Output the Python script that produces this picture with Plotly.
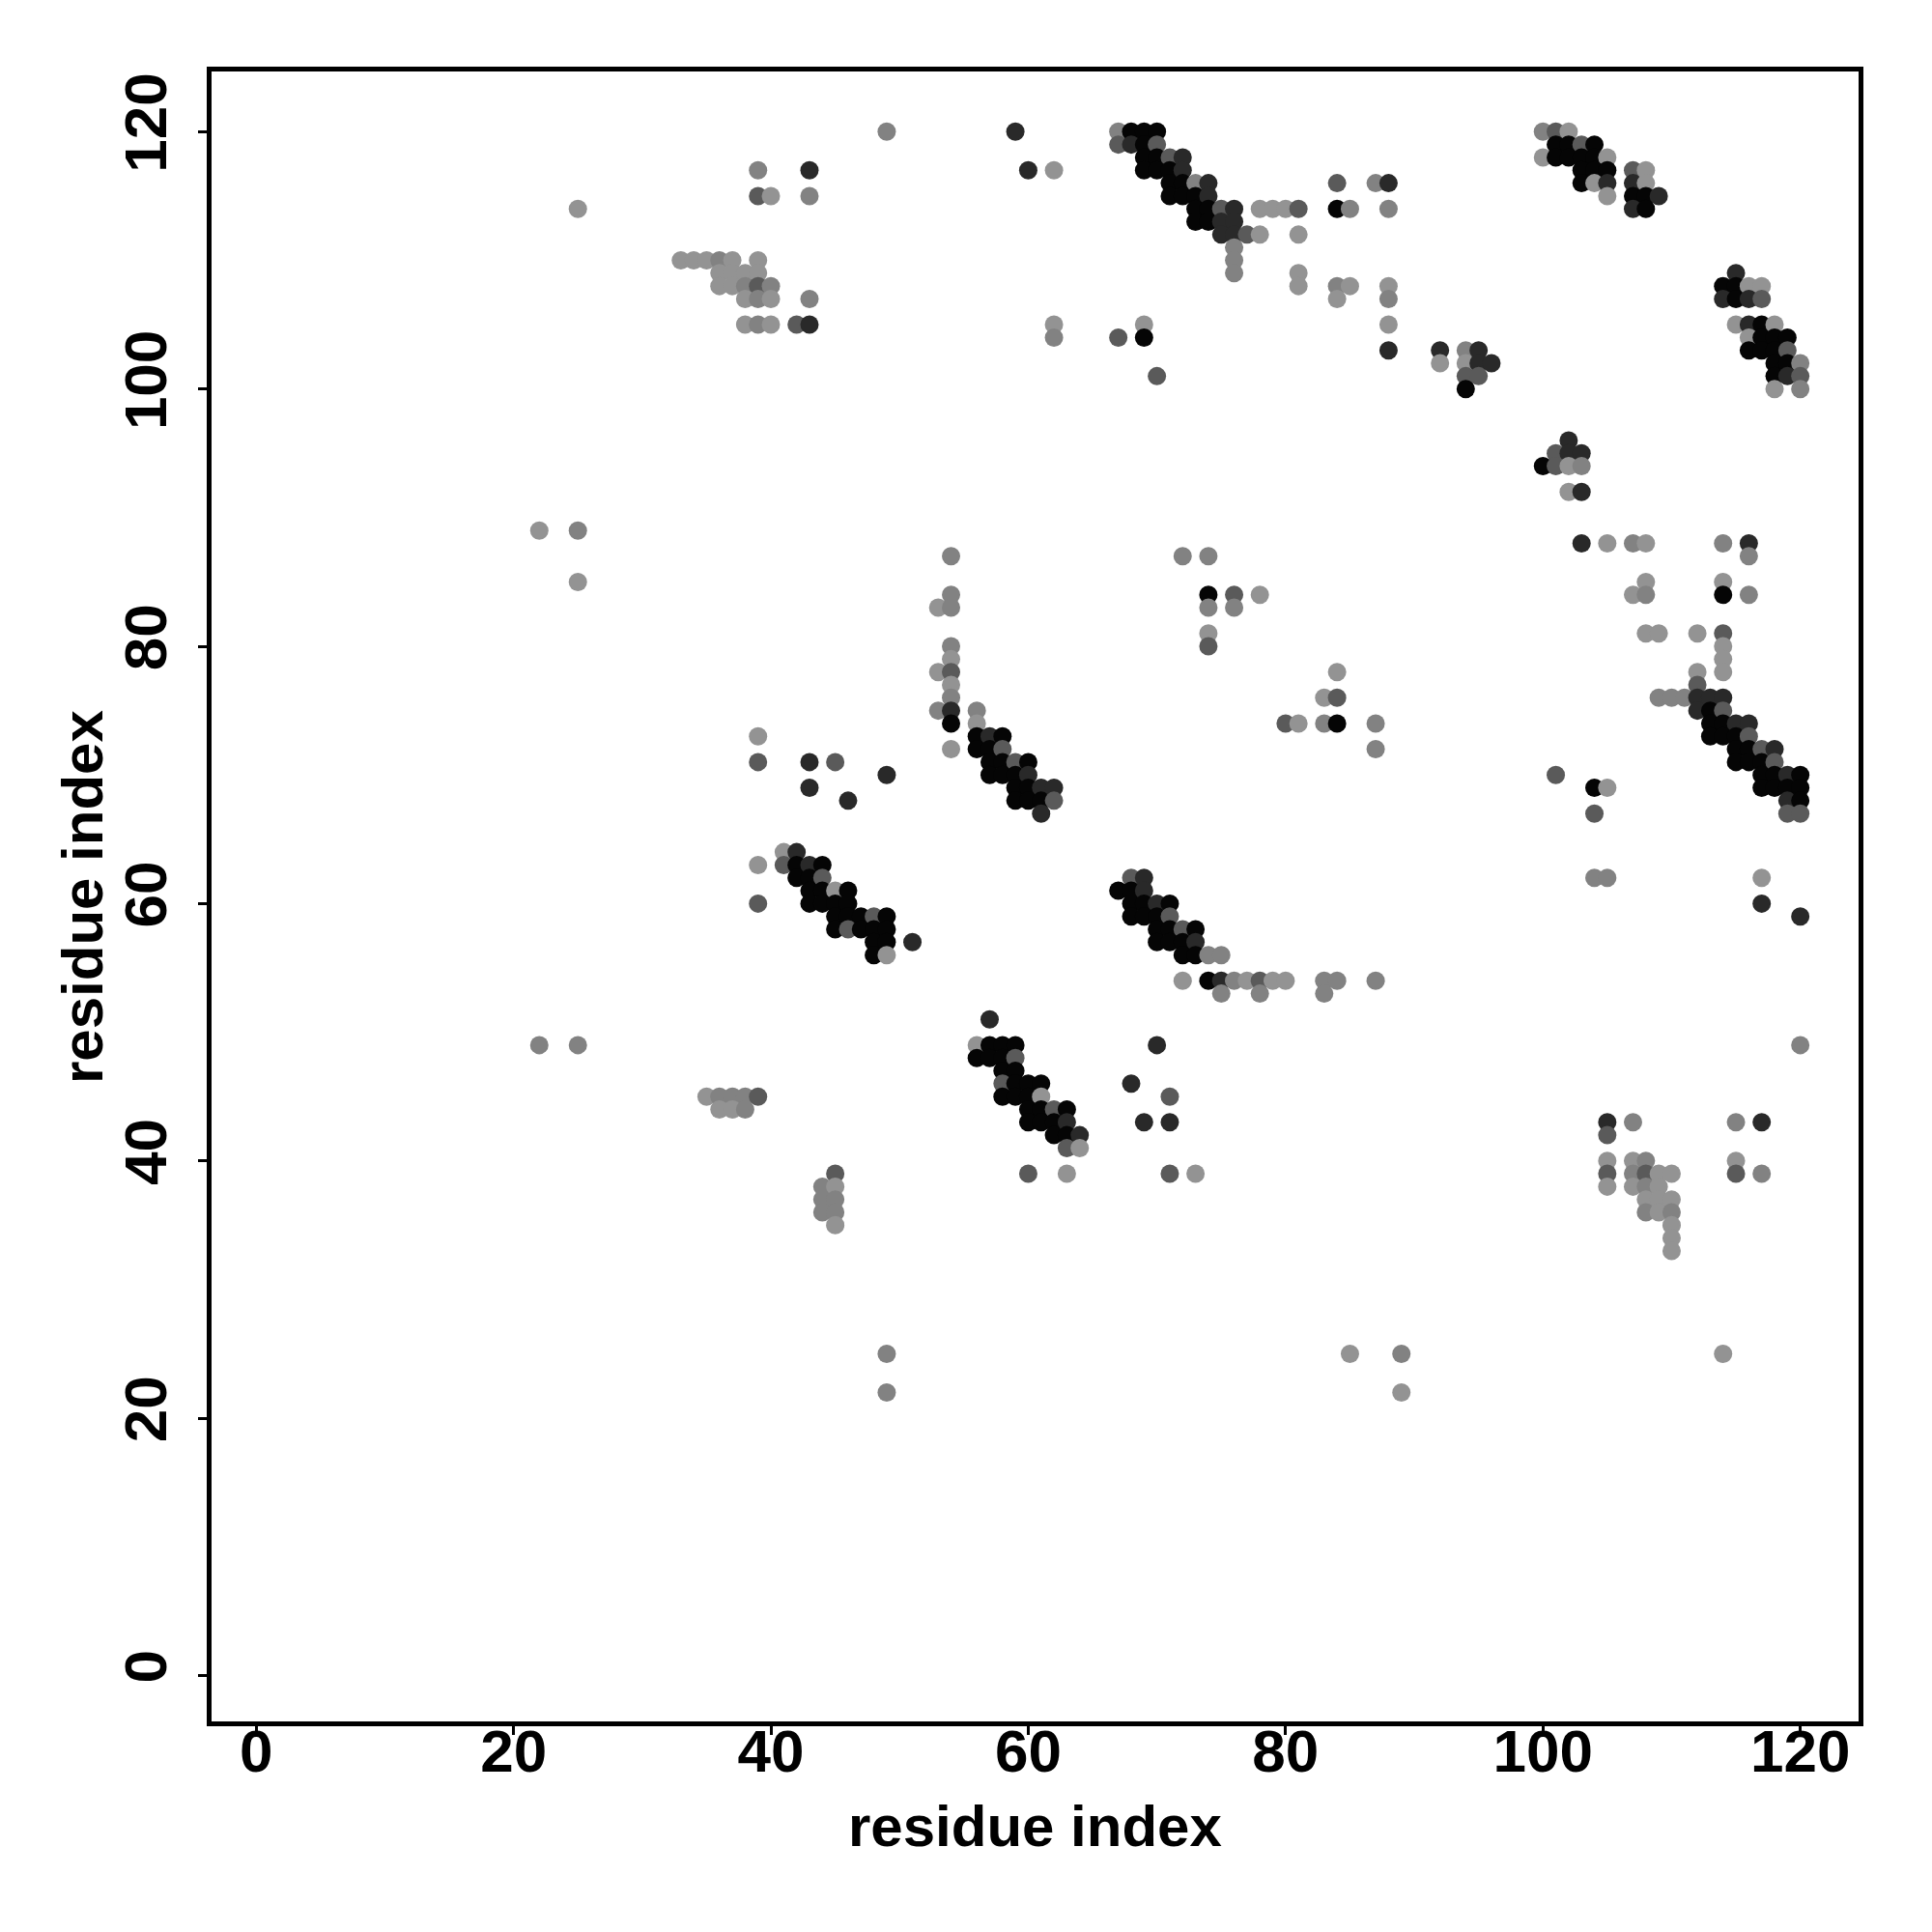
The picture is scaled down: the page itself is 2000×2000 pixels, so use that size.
import plotly.graph_objects as go

# contact score shades: L light, G gray, M mid, D dark, K black
L, G, M, D, K = 0.1, 0.2, 0.45, 0.75, 0.97

res_i = [
    49, 39, 43, 39, 40, 43, 25, 33, 34, 35, 36, 37, 39, 36, 37, 38, 39, 36, 37, 38, 39, 40, 38, 39, 40, 43, 38, 39, 40, 42, 43, 22, 25,
    59, 60, 62, 67, 68, 69, 70, 67, 68, 69, 70, 69, 70, 71, 72, 69, 70, 71, 72, 71, 72, 73, 74, 71, 72, 73, 74, 73, 74, 75, 76, 78, 79, 80, 81, 84, 85, 73, 74, 75, 76, 75, 76, 77, 78, 81, 76, 76, 76, 84, 87, 88, 81, 81, 84, 85, 84, 62, 62, 67, 69, 69, 70, 54, 72, 74,
    88, 88, 88, 88, 88, 92, 92, 94, 95, 94, 95, 96, 94, 95, 94,
    100, 101, 102, 101, 102, 103, 104, 100, 101, 102, 103, 104, 105, 103, 104, 105, 103, 104, 105, 105, 107, 108, 107, 108, 107, 108, 109, 107, 108,
    115, 114, 115, 116, 117, 114, 115, 116, 117, 115, 116, 117, 118, 116, 117, 118, 119, 116, 117, 118, 119, 118, 119, 120, 118, 119, 120, 118, 120,
    102, 101, 102, 103, 100, 101, 102, 103, 102, 103, 103, 105, 107, 108, 114, 116, 116,
    25, 39, 39, 43, 45, 43, 49, 46, 39, 39,
    41, 42, 41, 42, 43, 44, 42, 43, 44, 43, 44, 45, 46, 43, 44, 45, 46, 45, 46, 47, 48, 49, 45, 46, 47, 48, 49, 48, 49, 51, 48, 49,
    54, 53, 54, 54, 54, 53, 54, 54, 54, 53, 54, 54, 54, 56, 56,
    56, 57, 58, 56, 57, 58, 57, 58, 59, 60, 57, 58, 59, 60, 59, 60, 61, 62, 59, 60, 61, 62, 61,
    74, 76, 78, 74, 76, 74, 74, 84, 83, 84, 80, 81, 83, 84, 87, 87,
    68, 69, 67, 68, 69, 68, 69, 70, 71, 68, 69, 70, 71, 70, 71, 72, 73, 70, 71, 72, 73, 72, 73, 74, 75,
    72, 74, 75, 76, 77, 78, 79, 80, 83, 84, 87, 75, 78, 83,
    108, 107, 108, 114, 114, 116, 108, 109, 112, 114, 114, 114, 114, 112, 112,
    109, 110, 111, 112, 113, 114, 112, 113, 114, 113, 114, 115, 116, 113, 114, 115, 116, 115, 116, 117, 118, 115, 116, 117, 118, 117, 118, 119, 120, 117, 118, 119, 120, 119, 120, 119, 120,
    101, 104, 105, 104, 104, 105, 117, 117, 120,
    22, 25, 35, 36, 37, 38, 39, 36, 37, 38, 45, 44, 45, 44, 45, 44, 45, 45, 49, 49,
    57, 56, 57, 58, 59, 70, 56, 57, 58, 59, 58, 59, 58, 59, 60, 61, 68, 58, 59, 60, 61, 71, 60, 61, 62, 63, 60, 61, 62, 63, 69, 71, 62, 63, 64, 63, 64, 60, 63, 71, 73, 85,
    120, 105, 105, 107, 115, 117, 105, 105, 105, 107, 108, 107, 108, 107, 108, 109, 110, 109, 108, 108, 109, 109, 110, 110, 110, 110, 110, 115, 115, 117, 89, 89, 114,
]

res_j = [
    120, 117, 117, 115, 115, 115, 114, 110, 110, 110, 110, 110, 110, 109, 109, 109, 109, 108, 108, 108, 108, 108, 107, 107, 107, 107, 105, 105, 105, 105, 105, 89, 89,
    120, 117, 117, 120, 120, 120, 120, 119, 119, 119, 119, 118, 118, 118, 118, 117, 117, 117, 117, 116, 116, 116, 116, 115, 115, 115, 115, 114, 114, 114, 114, 114, 114, 114, 114, 114, 114, 113, 113, 113, 113, 112, 112, 112, 112, 112, 111, 110, 109, 116, 116, 116, 109, 108, 108, 108, 107, 105, 104, 104, 105, 104, 101, 87, 87, 87,
    114, 108, 107, 105, 103, 103, 102, 103, 103, 102, 102, 102, 101, 101, 100,
    120, 120, 120, 119, 119, 119, 119, 118, 118, 118, 118, 118, 118, 117, 117, 117, 116, 116, 116, 115, 117, 117, 116, 116, 115, 115, 115, 114, 114,
    109, 108, 108, 108, 108, 107, 107, 107, 107, 105, 105, 105, 105, 104, 104, 104, 104, 103, 103, 103, 103, 102, 102, 102, 101, 101, 101, 100, 100,
    96, 95, 95, 95, 94, 94, 94, 94, 92, 92, 88, 88, 88, 88, 88, 88, 87,
    85, 73, 71, 71, 71, 69, 70, 68, 63, 60,
    64, 64, 63, 63, 63, 63, 62, 62, 62, 61, 61, 61, 61, 60, 60, 60, 60, 59, 59, 59, 59, 59, 58, 58, 58, 58, 58, 57, 57, 57, 56, 56,
    84, 83, 83, 80, 79, 78, 78, 77, 76, 75, 75, 74, 72, 75, 74,
    73, 73, 73, 72, 72, 72, 71, 71, 71, 71, 70, 70, 70, 70, 69, 69, 69, 69, 68, 68, 68, 68, 67,
    84, 84, 84, 83, 83, 81, 80, 78, 76, 76, 74, 74, 74, 74, 74, 72,
    62, 62, 61, 61, 61, 60, 60, 60, 60, 59, 59, 59, 59, 58, 58, 58, 58, 57, 57, 57, 57, 56, 56, 56, 56,
    54, 54, 54, 54, 54, 54, 54, 54, 54, 54, 54, 53, 53, 53,
    85, 84, 84, 85, 84, 84, 81, 81, 81, 81, 80, 79, 78, 78, 77,
    76, 76, 76, 76, 76, 76, 75, 75, 75, 74, 74, 74, 74, 73, 73, 73, 73, 72, 72, 72, 72, 71, 71, 71, 71, 70, 70, 70, 70, 69, 69, 69, 69, 68, 68, 67, 67,
    70, 69, 69, 67, 62, 62, 62, 60, 59,
    49, 49, 45, 45, 45, 45, 45, 44, 44, 44, 39, 38, 38, 37, 37, 36, 36, 35, 25, 22,
    51, 49, 49, 49, 49, 49, 48, 48, 48, 48, 47, 47, 46, 46, 46, 46, 46, 45, 45, 45, 45, 45, 44, 44, 44, 44, 43, 43, 43, 43, 43, 43, 42, 42, 42, 41, 41, 39, 39, 39, 39, 25,
    49, 43, 42, 43, 43, 43, 40, 39, 38, 40, 40, 39, 39, 38, 38, 39, 39, 38, 37, 36, 37, 36, 37, 36, 35, 34, 33, 40, 39, 39, 25, 22, 25,
]

score = [
    G, G, D, M, L, G, L, L, L, L, G, L, L, L, L, L, L, L, L, G, M, G, L, G, L, G, L, G, L, M, D, L, G,
    D, D, L, G, K, K, K, M, D, K, M, K, K, M, D, K, K, K, D, K, K, G, D, K, K, K, D, K, K, M, D, L, L, L, M, K, G, K, K, D, D, D, D, M, L, L, G, G, G, M, G, D, L, L, G, L, L, L, G, M, L, K, M, G, G, G,
    G, L, G, L, D, D, L, G, D, L, D, D, M, M, K,
    G, M, L, K, K, M, K, L, K, K, K, K, L, K, K, K, K, L, D, L, M, L, D, L, K, K, D, D, K,
    D, K, K, L, L, D, K, D, M, L, D, K, L, L, K, K, K, K, K, K, M, K, K, G, K, D, M, L, G,
    D, M, D, D, K, M, L, G, L, D, D, L, G, L, G, D, G,
    L, L, M, D, M, D, D, D, L, M,
    L, D, M, K, D, K, K, K, M, K, K, L, K, K, K, K, K, K, K, K, M, K, K, M, K, K, K, K, K, D, K, L,
    G, L, G, G, L, L, M, L, G, G, D, K, L, G, L,
    K, D, K, K, K, M, K, K, M, K, K, K, K, D, K, K, D, D, K, K, K, M, D,
    K, M, L, G, G, L, M, L, L, M, M, L, G, K, G, G,
    M, D, K, K, D, K, K, D, K, K, K, K, M, K, K, M, K, K, K, K, D, K, K, G, G,
    L, K, D, G, L, M, L, L, G, G, G, G, G, G,
    L, L, G, L, K, G, L, L, L, M, L, L, L, L, M,
    G, G, G, D, D, D, D, K, M, K, K, D, D, K, K, K, M, K, K, M, D, K, K, K, M, K, K, D, K, K, K, K, K, D, K, M, M,
    M, K, L, M, G, G, L, D, D,
    G, G, L, G, G, G, M, L, L, G, M, G, L, G, G, G, G, L, G, G,
    D, L, K, K, K, D, K, K, K, M, K, K, M, K, K, K, D, K, K, K, L, M, K, K, M, K, K, K, K, D, D, D, K, K, D, M, L, M, L, M, L, L,
    G, D, M, G, G, D, L, M, L, L, G, G, M, L, G, L, L, L, L, G, L, L, L, G, L, L, L, L, M, G, G, L, L,
]

tick_vals = [0, 20, 40, 60, 80, 100, 120]
axis_title = "residue index"

assert len(res_i) == len(res_j) == len(score), (len(res_i), len(res_j), len(score))

FONT = "Liberation Sans, Arial, Helvetica, sans-serif"

fig = go.Figure(
    go.Scatter(
        x=res_i,
        y=res_j,
        mode="markers",
        marker=dict(
            size=19,
            color=score,
            cmin=0,
            cmax=1,
            colorscale=[[0, "#a3a3a3"], [1, "#000000"]],
            line=dict(width=0),
            showscale=False,
        ),
        showlegend=False,
    )
)

axis_common = dict(
    tickvals=tick_vals,
    ticktext=[str(v) for v in tick_vals],
    ticks="outside",
    ticklen=9,
    tickwidth=3,
    tickcolor="black",
    showline=True,
    linewidth=5,
    linecolor="black",
    mirror=True,
    showgrid=False,
    zeroline=False,
    tickfont=dict(family=FONT, size=62, color="black", weight="bold"),
)

fig.update_xaxes(**axis_common, range=[-3.47, 124.53], ticklabelstandoff=-36)
fig.update_yaxes(**axis_common, range=[-3.57, 124.68], tickangle=-90, ticklabelstandoff=8)

title_font = dict(family=FONT, size=60, color="black", weight="bold")
fig.add_annotation(
    text=axis_title, xref="paper", yref="paper", x=0.5, y=-0.0637,
    xanchor="center", yanchor="middle", showarrow=False, font=title_font,
)
fig.add_annotation(
    text=axis_title, xref="paper", yref="paper", x=-0.0786, y=0.5,
    xanchor="center", yanchor="middle", showarrow=False, textangle=-90, font=title_font,
)

fig.update_layout(
    width=2000,
    height=2000,
    margin=dict(l=211, r=84, t=66, b=226, autoexpand=False),
    plot_bgcolor="white",
    paper_bgcolor="white",
)

fig.write_html("out.html")
